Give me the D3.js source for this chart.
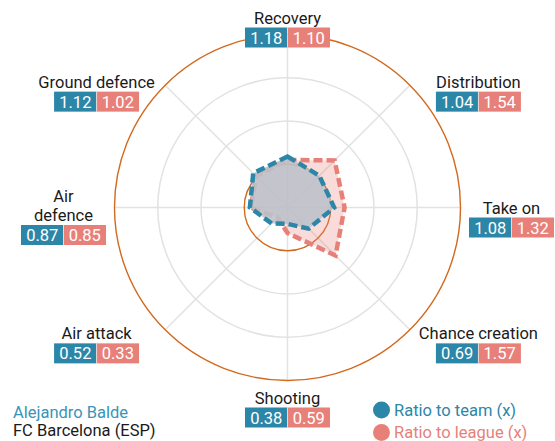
<!DOCTYPE html>
<html><head><meta charset="utf-8">
<script src="https://cdn.jsdelivr.net/npm/d3@7"></script>
<style>body{margin:0;background:#fff}svg{display:block;font-family:Roboto,"Noto Sans",sans-serif}</style>
</head><body><svg id="c" width="555" height="441"></svg>
<script>
const categories = ["Recovery","Distribution","Take on","Chance creation","Shooting","Air attack","Air defence","Ground defence"];
const labelLines = [["Recovery"],["Distribution"],["Take on"],["Chance creation"],["Shooting"],["Air attack"],["Air","defence"],["Ground defence"]];
const ratioTeam = [1.18,1.04,1.08,0.69,0.38,0.52,0.87,1.12];
const ratioLeague = [1.10,1.54,1.32,1.57,0.59,0.33,0.85,1.02];
const gridValues = [1,2,3,4];
const seriesNames = ["Ratio to team (x)","Ratio to league (x)"];
const playerName = "Alejandro Balde";
const teamName = "FC Barcelona (ESP)";

const W=555,H=441,cx=287.5,cy=207.5,R=173;
const BLUE="#2b86a8",RED="#e8807a",ORANGE="#d2691e",GRID="#e2e2e2";
const FS=16.5;
const svg=d3.select("#c");
const r=d3.scaleLinear().domain([0,4]).range([0,R]);
const ang=d3.scalePoint().domain(categories).range([0,2*Math.PI*(7/8)]);
const px=(a,v)=>cx+Math.sin(a)*r(v), py=(a,v)=>cy-Math.cos(a)*r(v);

svg.selectAll("circle.grid").data(gridValues.slice(1,3)).join("circle")
  .attr("cx",cx).attr("cy",cy).attr("r",d=>r(d)).attr("fill","none").attr("stroke",GRID).attr("stroke-width",1.5);
svg.selectAll("line.spoke").data(categories).join("line")
  .attr("x1",cx).attr("y1",cy).attr("x2",d=>px(ang(d),4)).attr("y2",d=>py(ang(d),4))
  .attr("stroke",GRID).attr("stroke-width",1.5);
svg.selectAll("circle.ref").data([gridValues[0],gridValues[3]]).join("circle")
  .attr("cx",cx).attr("cy",cy).attr("r",d=>r(d)).attr("fill","none").attr("stroke",ORANGE).attr("stroke-width",1.4);

const line=d3.lineRadial().angle((d,i)=>ang(categories[i])).radius(d=>r(d)).curve(d3.curveLinearClosed);
const g=svg.append("g").attr("transform",`translate(${cx},${cy})`);
g.append("path").attr("d",line(ratioLeague)).attr("fill",RED).attr("fill-opacity",0.28).attr("stroke","none");
g.append("path").attr("d",line(ratioLeague)).attr("fill","none").attr("stroke",RED).attr("stroke-width",4.5).attr("stroke-dasharray","9,4");
g.append("path").attr("d",line(ratioTeam)).attr("fill","#bcc1ca").attr("fill-opacity",0.88).attr("stroke","none");
g.append("path").attr("d",line(ratioTeam)).attr("fill","none").attr("stroke",BLUE).attr("stroke-width",4.5).attr("stroke-dasharray","9,4");

const bw=42.5,bh=20,lineH=19.5,boxShift=7.5;
categories.forEach((c,i)=>{
  const a=ang(c), s=Math.sin(a), co=Math.cos(a), d2=Math.abs(Math.sin(2*a));
  const Lx=224+46*d2, Ly=190-12*d2;
  const lines=labelLines[i];
  const x=cx+s*Lx;
  const top=cy+10-co*Ly+(lines.length-1)*boxShift;
  const lg=svg.append("g");
  const tx=lg.append("text").attr("text-anchor","middle").attr("font-size",FS).attr("fill","#1a1a1a");
  lines.forEach((t,j)=>{
    tx.append("tspan").attr("x",x).attr("y",top-4-(lines.length-1-j)*lineH).text(t);
  });
  [[ratioTeam[i],BLUE,x-bw],[ratioLeague[i],RED,x]].forEach(([v,col,x0])=>{
    lg.append("rect").attr("x",x0).attr("y",top).attr("width",bw).attr("height",bh).attr("fill",col);
    lg.append("text").attr("x",x0+bw/2).attr("y",top+16).attr("text-anchor","middle")
      .attr("font-size",FS).attr("fill","#fff").text(d3.format(".2f")(v));
  });
  lg.append("line").attr("x1",x).attr("x2",x).attr("y1",top).attr("y2",top+bh).attr("stroke","#fff").attr("stroke-opacity",0.6).attr("stroke-width",1);
});

const leg=svg.append("g");
[[seriesNames[0],BLUE,410],[seriesNames[1],RED,432.5]].forEach(([t,col,y])=>{
  leg.append("circle").attr("cx",381.5).attr("cy",y).attr("r",8.5).attr("fill",col);
  leg.append("text").attr("x",394).attr("y",y+5.5).attr("font-size",FS).attr("fill",col).text(t);
});
svg.append("text").attr("x",13).attr("y",418).attr("font-size",FS).attr("fill","#3a93b8").text(playerName);
svg.append("text").attr("x",13).attr("y",435.5).attr("font-size",FS).attr("fill","#1a1a1a").text(teamName);
</script></body></html>
